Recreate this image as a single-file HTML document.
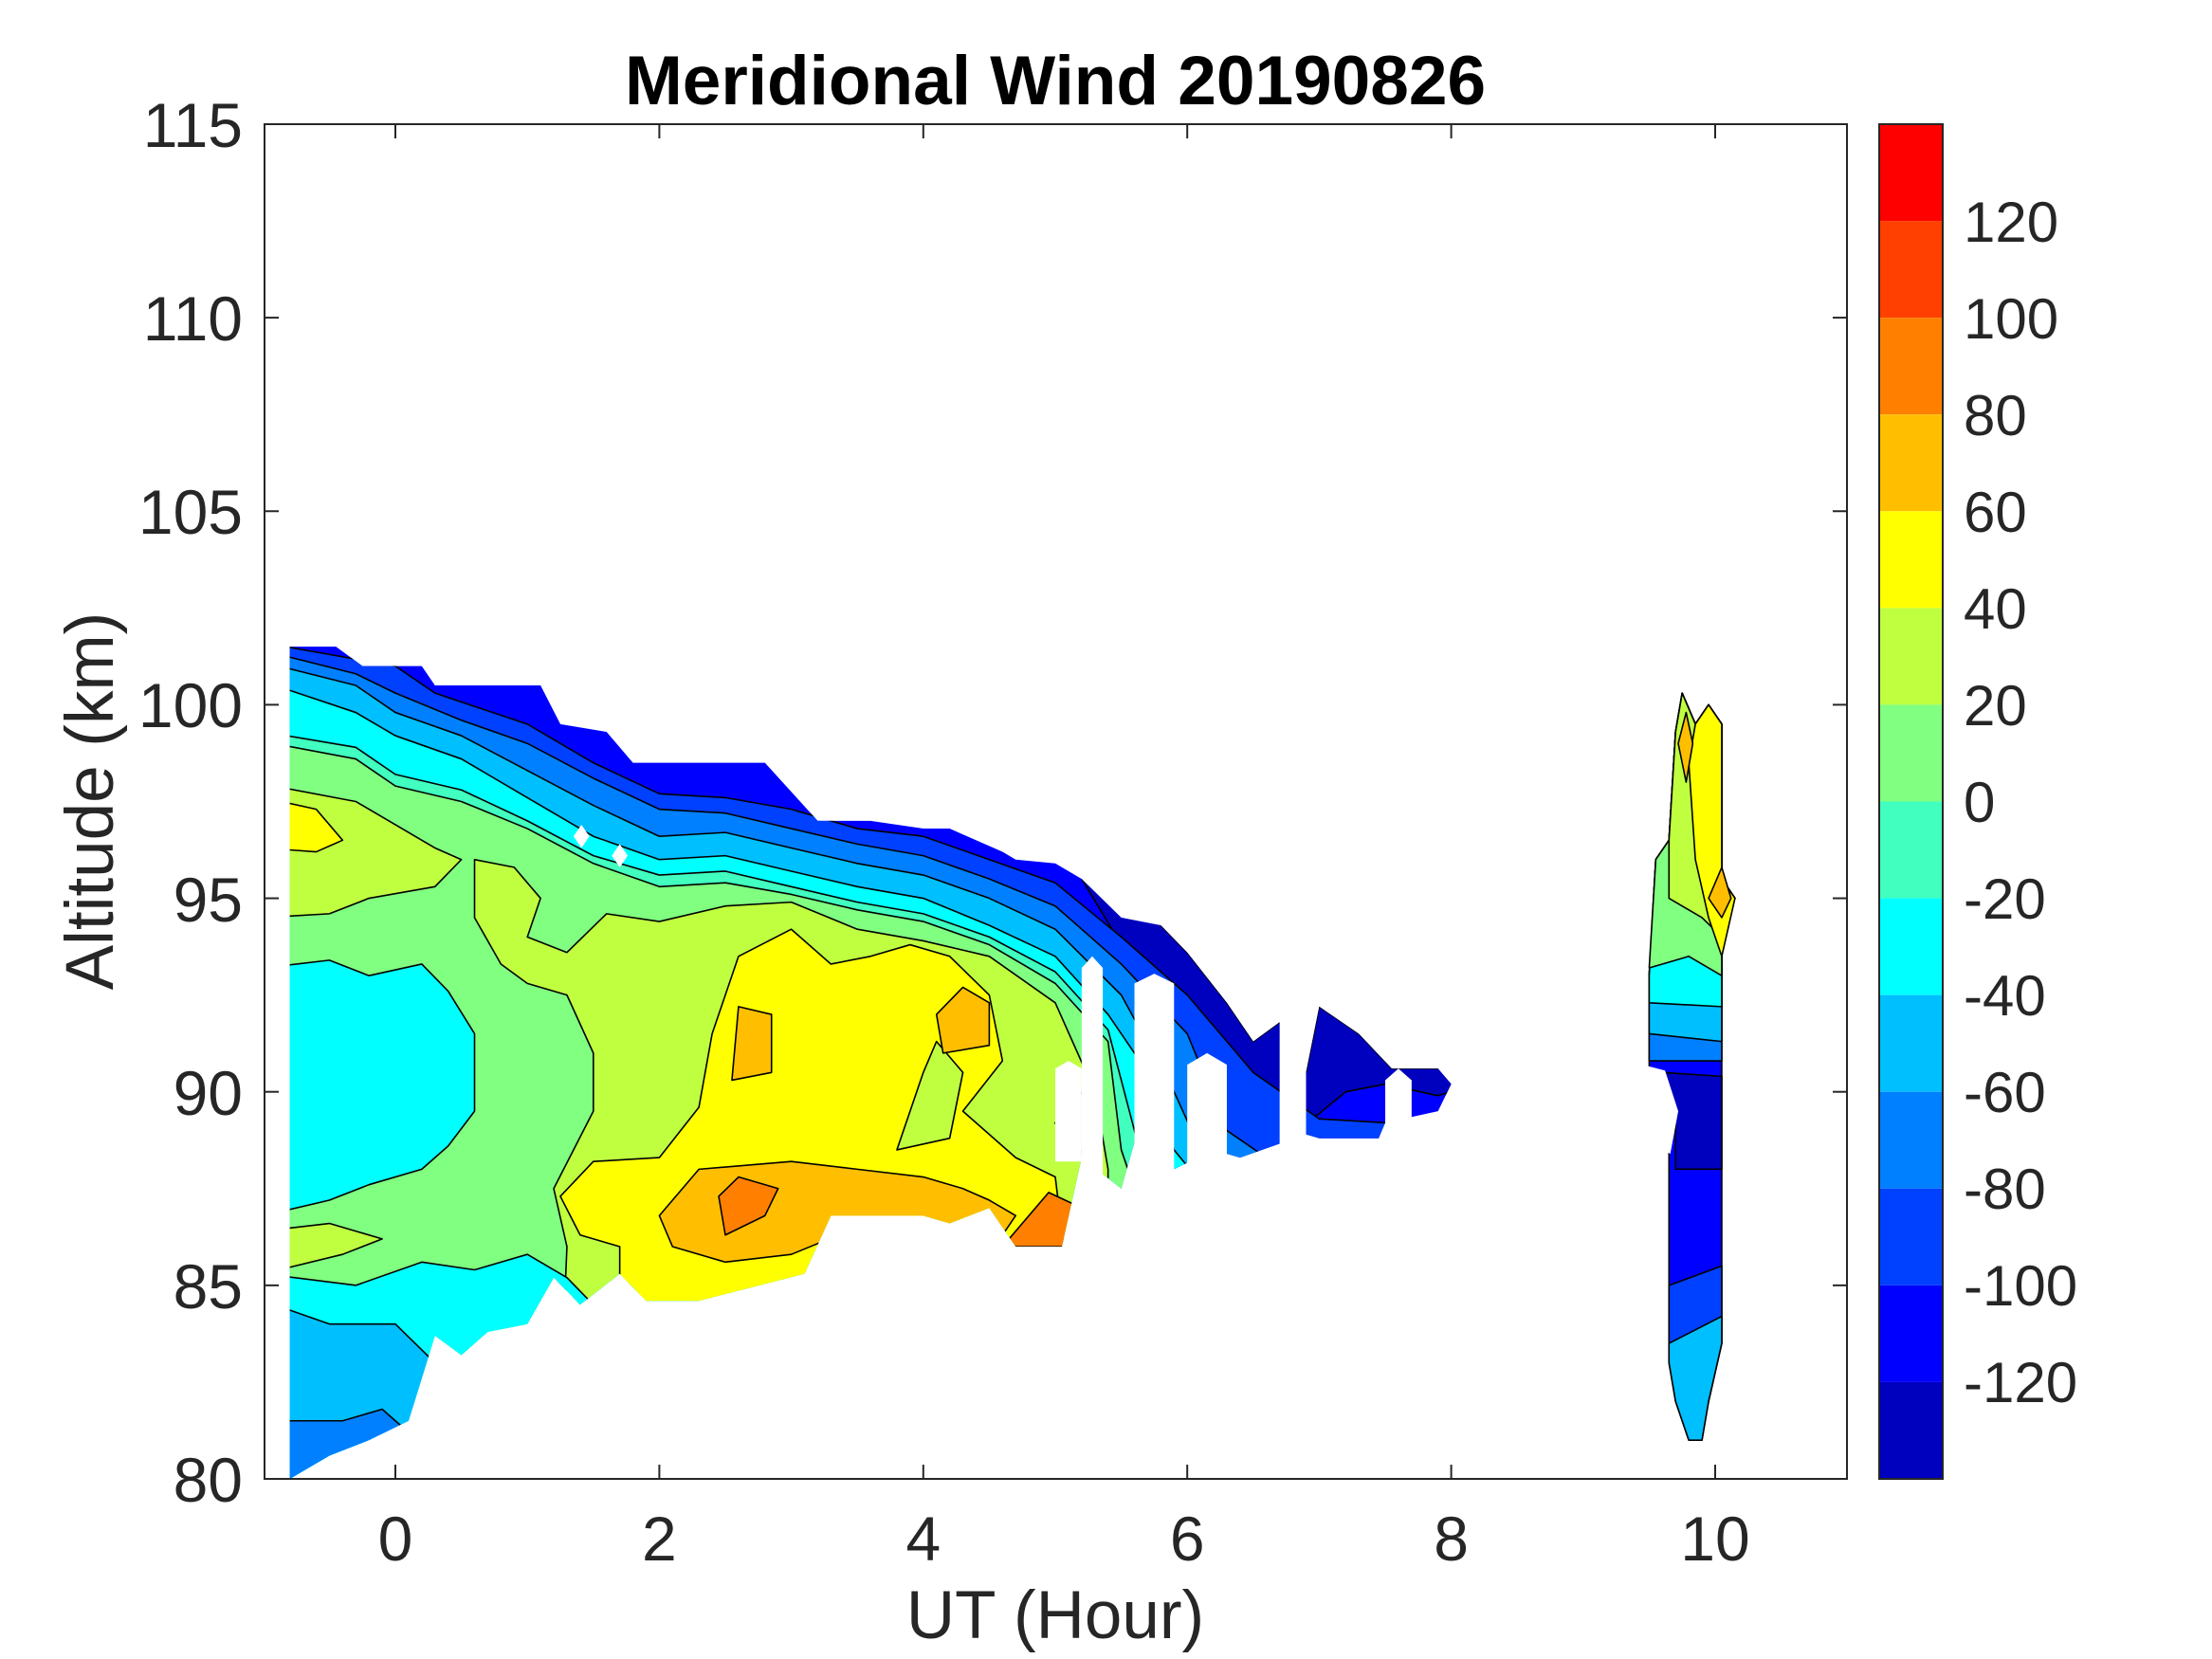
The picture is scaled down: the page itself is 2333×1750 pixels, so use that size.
<!DOCTYPE html>
<html><head><meta charset="utf-8"><style>
html,body{margin:0;padding:0;background:#fff;}
svg{display:block;}
text{font-family:"Liberation Sans",Arial,sans-serif;fill:#262626;}
</style></head><body>
<svg width="2333" height="1750" viewBox="0 0 2333 1750" xmlns="http://www.w3.org/2000/svg">
<defs>
<clipPath id="ax"><rect x="279" y="131" width="1669" height="1429"/></clipPath>
<clipPath id="main"><polygon points="-0.8,101.5 -0.45,101.5 -0.25,101 0.2,101 0.3,100.5 1.1,100.5 1.25,99.5 1.6,99.3 1.8,98.5 2.8,98.5 3.2,97 3.6,97 4,96.8 4.2,96.8 4.6,96.2 4.7,96 5.0,95.9 5.2,95.5 5.5,94.5 5.8,94.3 6.0,93.6 6.3,92.3 6.5,91.3 6.7,91.8 6.9,90.5 7.0,92.2 7.3,91.5 7.55,90.6 7.9,90.6 8.0,90.2 7.9,89.5 7.5,89.2 7.45,88.8 7.0,88.8 6.9,88.9 6.4,88.3 6.2,88.5 5.9,88 5.6,88.7 5.5,87.5 5.2,88.3 5.05,86 4.7,86 4.5,87 4.2,86.6 4.0,86.8 3.3,86.8 3.1,85.3 2.3,84.6 1.9,84.6 1.7,85.3 1.4,84.5 1.2,85.2 1.0,84 0.7,83.8 0.5,83.2 0.3,83.7 0.2,82.6 0.1,81.5 -0.2,81.0 -0.5,80.6 -0.8,80"/></clipPath>
</defs>
<g clip-path="url(#ax)">
<g transform="matrix(139.2,0,0,-40.83,417,4826.4)" stroke="#000" stroke-width="1.6" stroke-linejoin="round">
<g clip-path="url(#main)">
<rect x="-1" y="78" width="10" height="25" fill="#0000ff" stroke="none"/>
<polygon vector-effect="non-scaling-stroke" fill="#0000bf" points="5.3,96 5.8,94.3 6.0,93.6 6.3,92.3 6.5,91.3 6.7,91.8 6.9,90.5 7.0,92.2 7.3,91.5 7.55,90.6 7.9,90.6 8.2,90.2 7.9,89.9 7.5,90.2 7.2,90 6.95,89.3 6.7,89.5 6.3,90 6.0,91 5.7,92.5 5.5,93.8 5.2,95.5"/>
<polygon vector-effect="non-scaling-stroke" fill="#0040ff" points="-1,101.6 0,101 0.3,100.3 1,99.5 1.5,98.5 2,97.7 2.5,97.6 3,97.3 3.5,96.8 4,96.6 4.5,96 5,95.4 5.5,94 6,92.5 6.5,90.5 7,89.3 8.5,89 8.5,78 -1,78"/>
<polygon vector-effect="non-scaling-stroke" fill="#0080ff" points="-1,101.4 -0.3,100.8 0,100.3 0.5,99.6 1,99 1.5,98.1 2,97.3 2.5,97.2 3,96.8 3.5,96.4 4,96.1 4.5,95.5 5,94.8 5.5,93.3 6,91.5 6.3,89 6.6,88.3 8.5,87.5 8.5,78 -1,78"/>
<polygon vector-effect="non-scaling-stroke" fill="#00bfff" points="-1,101.1 -0.3,100.5 0,99.8 0.5,99.2 1,98.3 1.5,97.4 2,96.6 2.5,96.7 3,96.3 3.5,95.9 4,95.6 4.5,95 5,94.2 5.5,92.5 5.9,90 6.1,88.5 6.5,87 7.2,86 8.5,85 8.5,78 -1,78"/>
<polygon vector-effect="non-scaling-stroke" fill="#00ffff" points="-1,100.6 -0.3,99.8 0,99.2 0.5,98.6 1,97.6 1.5,96.6 2,96.0 2.5,96.1 3,95.7 3.5,95.3 4,95.0 4.5,94.3 5,93.5 5.4,92 5.7,90.5 5.9,88.5 6.5,86 6.5,78 -1,78"/>
<polygon vector-effect="non-scaling-stroke" fill="#40ffbf" points="-1,99.3 -0.3,98.9 0,98.2 0.5,97.8 1,97.0 1.5,96.1 2,95.6 2.5,95.7 3,95.3 3.5,94.9 4,94.6 4.5,94.0 5,93.1 5.4,91.6 5.6,89 5.7,87.5 5.7,78 -1,78"/>
<polygon vector-effect="non-scaling-stroke" fill="#80ff80" points="-1,99.05 -0.3,98.6 0,97.9 0.5,97.5 1,96.8 1.5,95.9 2,95.3 2.5,95.4 3,95.1 3.5,94.7 4,94.4 4.5,93.8 5,92.8 5.4,91.3 5.5,88.5 5.6,87.5 5.6,78 -1,78"/>
<polygon vector-effect="non-scaling-stroke" fill="#bfff40" points="-1,97.95 -0.3,97.5 0,96.9 0.3,96.3 0.5,96 0.3,95.3 -0.2,95 -0.5,94.6 -1,94.5"/>
<polygon vector-effect="non-scaling-stroke" fill="#bfff40" points="0.6,96.0 0.9,95.8 1.1,95 1.0,94 1.3,93.6 1.6,94.6 2,94.4 2.5,94.8 3,94.9 3.5,94.2 4,93.9 4.5,93.5 5,92.3 5.3,90 5.4,88 5.4,78 1.2,78 1.3,86 1.2,87.5 1.5,89.5 1.5,91 1.3,92.5 1.0,92.8 0.8,93.3 0.6,94.5"/>
<polygon vector-effect="non-scaling-stroke" fill="#80ff80" points="5.0,89.2 5.2,90 5.3,88.6 5.1,88.3"/>
<polygon vector-effect="non-scaling-stroke" fill="#00ffff" points="-1,93.2 -0.5,93.4 -0.2,93.0 0.2,93.3 0.4,92.6 0.6,91.5 0.6,89.5 0.4,88.6 0.2,88.0 -0.2,87.6 -0.5,87.2 -1,86.8"/>
<polygon vector-effect="non-scaling-stroke" fill="#bfff40" points="-1,85.3 -0.4,85.8 -0.1,86.2 -0.5,86.6 -1,86.4"/>
<polygon vector-effect="non-scaling-stroke" fill="#00ffff" points="-1,85.3 -0.3,85.0 0.2,85.6 0.6,85.4 1.0,85.8 1.3,85.2 1.5,84.5 1.5,78 -1,78"/>
<polygon vector-effect="non-scaling-stroke" fill="#00bfff" points="-1,84.6 -0.5,84.0 0,84.0 0.3,83.0 0.5,78 -1,78"/>
<polygon vector-effect="non-scaling-stroke" fill="#0080ff" points="-1,81.5 -0.4,81.5 -0.1,81.8 0.1,81.2 0.2,78 -1,78"/>
<polygon vector-effect="non-scaling-stroke" fill="#ffff00" points="1.25,87.3 1.5,88.2 2.0,88.3 2.3,89.6 2.4,91.5 2.6,93.5 3.0,94.2 3.3,93.3 3.6,93.5 3.9,93.8 4.2,93.5 4.5,92.5 4.6,90.8 4.3,89.5 4.7,88.3 5.0,87.8 5.1,85 4.0,85 3.0,84.5 2.5,84 1.7,84 1.7,86 1.4,86.3"/>
<polygon vector-effect="non-scaling-stroke" fill="#bfff40" points="3.8,88.5 4.0,90.5 4.1,91.3 4.3,90.5 4.2,88.8"/>
<polygon vector-effect="non-scaling-stroke" fill="#ffff00" points="-1,97.6 -0.6,97.3 -0.4,96.5 -0.6,96.2 -1,96.3"/>
<polygon vector-effect="non-scaling-stroke" fill="#ffbf00" points="2.0,86.8 2.3,88.0 3.0,88.2 3.5,88.0 4.0,87.8 4.3,87.5 4.5,87.2 4.7,86.8 4.6,86.3 4.0,86.3 3.5,86.5 3.0,85.8 2.5,85.6 2.1,86.0"/>
<polygon vector-effect="non-scaling-stroke" fill="#ffbf00" points="2.55,90.3 2.85,90.5 2.85,92.0 2.6,92.2"/>
<polygon vector-effect="non-scaling-stroke" fill="#ffbf00" points="4.15,91.0 4.5,91.2 4.5,92.3 4.3,92.7 4.1,92.0"/>
<polygon vector-effect="non-scaling-stroke" fill="#ff8000" points="2.5,86.3 2.8,86.8 2.9,87.5 2.6,87.8 2.45,87.3"/>
<polygon vector-effect="non-scaling-stroke" fill="#ff8000" points="4.6,86.0 5.2,86.0 5.2,87.0 4.95,87.4"/>
</g>
<!-- right block -->
<g>
<polygon vector-effect="non-scaling-stroke" fill="#0000ff" points="9.55,96 9.65,96.5 9.7,99.3 9.75,100.3 9.85,99.5 9.95,100 10.05,99.5 10.05,95.5 10.15,95 10.05,94.5 10.05,83.5 9.95,82 9.9,81 9.8,81 9.7,82 9.65,83 9.65,88.5 9.5,88.8 9.5,93"/>
<polygon vector-effect="non-scaling-stroke" fill="#0000bf" points="9.7,88 10.05,88 10.05,90.4 9.6,90.5 9.7,89.5"/>
<polygon vector-effect="non-scaling-stroke" fill="#0040ff" points="9.65,85 10.05,85.5 10.05,83.5 9.95,82 9.65,83"/>
<polygon vector-effect="non-scaling-stroke" fill="#00bfff" points="9.65,83.5 10.05,84.2 10.05,83.5 9.95,82 9.9,81 9.8,81 9.7,82 9.65,83"/>
<polygon vector-effect="non-scaling-stroke" fill="#0080ff" points="9.5,93 9.55,96 9.65,96.5 9.7,99.3 9.75,100.3 9.85,99.5 9.95,100 10.05,99.5 10.05,95.5 10.15,95 10.05,94.5 10.05,90.8 9.5,90.8"/>
<polygon vector-effect="non-scaling-stroke" fill="#00bfff" points="9.5,93 9.55,96 9.65,96.5 9.7,99.3 9.75,100.3 9.85,99.5 9.95,100 10.05,99.5 10.05,95.5 10.15,95 10.05,94.5 10.05,91.3 9.5,91.5"/>
<polygon vector-effect="non-scaling-stroke" fill="#00ffff" points="9.5,93 9.55,96 9.65,96.5 9.7,99.3 9.75,100.3 9.85,99.5 9.95,100 10.05,99.5 10.05,95.5 10.15,95 10.05,94.5 10.05,92.2 9.5,92.3"/>
<polygon vector-effect="non-scaling-stroke" fill="#80ff80" points="9.5,93.2 9.55,96 9.65,96.5 9.7,99.3 9.75,100.3 9.85,99.5 9.95,100 10.05,99.5 10.05,95.5 10.15,95 10.05,94.5 10.05,93 9.8,93.5"/>
<polygon vector-effect="non-scaling-stroke" fill="#bfff40" points="9.65,95 9.65,96.5 9.7,99.3 9.75,100.3 9.85,99.5 9.95,100 10.05,99.5 10.05,95.5 10.15,95 10.05,94 9.9,94.5"/>
<polygon vector-effect="non-scaling-stroke" fill="#ffff00" points="9.85,96 9.8,98.5 9.85,99.5 9.95,100 10.05,99.5 10.05,95.5 10.15,95 10.05,93.5 9.95,94.5"/>
<polygon vector-effect="non-scaling-stroke" fill="#ffbf00" points="9.95,95 10.05,95.8 10.12,95 10.05,94.5"/>
<polygon vector-effect="non-scaling-stroke" fill="#ffbf00" points="9.72,99 9.78,99.8 9.83,99 9.78,98"/>
</g>
<!-- white gaps -->
<g fill="#fff" stroke="none">
<polygon points="5.2,78 5.2,93.2 5.28,93.5 5.36,93.2 5.36,78"/>
<polygon points="5.6,78 5.6,92.8 5.75,93.05 5.9,92.8 5.9,78"/>
<polygon points="6.0,78 6.0,90.7 6.15,91.0 6.3,90.7 6.3,78"/>
<rect x="6.7" y="78" width="0.2" height="16"/>
<polygon points="7.5,78 7.5,90.3 7.6,90.6 7.7,90.3 7.7,78"/>
<polygon points="5.0,88.2 5.2,88.2 5.2,90.6 5.1,90.8 5.0,90.6"/>
<polygon points="1.35,96.6 1.41,96.9 1.47,96.6 1.41,96.3"/>
<polygon points="1.64,96.1 1.7,96.4 1.76,96.1 1.7,95.8"/>
<polygon points="9.45,88.7 9.66,88.4 9.72,89.5 9.62,90.55 9.45,90.7"/>
</g>
</g>
</g>
<!-- axes -->
<rect x="279" y="131" width="1669" height="1429" fill="none" stroke="#262626" stroke-width="2"/>
<g stroke="#262626" stroke-width="2">
<line x1="417" y1="1560" x2="417" y2="1545"/><line x1="417" y1="131" x2="417" y2="146"/>
<line x1="695.4" y1="1560" x2="695.4" y2="1545"/><line x1="695.4" y1="131" x2="695.4" y2="146"/>
<line x1="973.8" y1="1560" x2="973.8" y2="1545"/><line x1="973.8" y1="131" x2="973.8" y2="146"/>
<line x1="1252.2" y1="1560" x2="1252.2" y2="1545"/><line x1="1252.2" y1="131" x2="1252.2" y2="146"/>
<line x1="1530.6" y1="1560" x2="1530.6" y2="1545"/><line x1="1530.6" y1="131" x2="1530.6" y2="146"/>
<line x1="1809" y1="1560" x2="1809" y2="1545"/><line x1="1809" y1="131" x2="1809" y2="146"/>
<line x1="279" y1="1355.85" x2="294" y2="1355.85"/><line x1="1948" y1="1355.85" x2="1933" y2="1355.85"/>
<line x1="279" y1="1151.7" x2="294" y2="1151.7"/><line x1="1948" y1="1151.7" x2="1933" y2="1151.7"/>
<line x1="279" y1="947.55" x2="294" y2="947.55"/><line x1="1948" y1="947.55" x2="1933" y2="947.55"/>
<line x1="279" y1="743.4" x2="294" y2="743.4"/><line x1="1948" y1="743.4" x2="1933" y2="743.4"/>
<line x1="279" y1="539.25" x2="294" y2="539.25"/><line x1="1948" y1="539.25" x2="1933" y2="539.25"/>
<line x1="279" y1="335.1" x2="294" y2="335.1"/><line x1="1948" y1="335.1" x2="1933" y2="335.1"/>
</g>
<g font-size="66" text-anchor="end">
<text x="256" y="1584">80</text><text x="256" y="1380">85</text><text x="256" y="1176">90</text>
<text x="256" y="972">95</text><text x="256" y="767">100</text><text x="256" y="563">105</text>
<text x="256" y="359">110</text><text x="256" y="155">115</text>
</g>
<g font-size="66" text-anchor="middle">
<text x="417" y="1646">0</text><text x="695.4" y="1646">2</text><text x="973.8" y="1646">4</text>
<text x="1252.2" y="1646">6</text><text x="1530.6" y="1646">8</text><text x="1809" y="1646">10</text>
</g>
<text x="1113" y="1728" font-size="71" text-anchor="middle">UT (Hour)</text>
<text transform="translate(119,845) rotate(-90)" font-size="71" text-anchor="middle">Altitude (km)</text>
<text x="1113" y="110" font-size="73" font-weight="bold" text-anchor="middle" style="fill:#000">Meridional Wind 20190826</text>
<!-- colorbar -->
<g>
<rect x="1982" y="131" width="67" height="102.07" fill="#ff0000"/>
<rect x="1982" y="233.07" width="67" height="102.07" fill="#ff4000"/>
<rect x="1982" y="335.14" width="67" height="102.07" fill="#ff8000"/>
<rect x="1982" y="437.21" width="67" height="102.07" fill="#ffbf00"/>
<rect x="1982" y="539.28" width="67" height="102.07" fill="#ffff00"/>
<rect x="1982" y="641.35" width="67" height="102.07" fill="#bfff40"/>
<rect x="1982" y="743.42" width="67" height="102.07" fill="#80ff80"/>
<rect x="1982" y="845.49" width="67" height="102.07" fill="#40ffbf"/>
<rect x="1982" y="947.56" width="67" height="102.07" fill="#00ffff"/>
<rect x="1982" y="1049.63" width="67" height="102.07" fill="#00bfff"/>
<rect x="1982" y="1151.7" width="67" height="102.07" fill="#0080ff"/>
<rect x="1982" y="1253.77" width="67" height="102.07" fill="#0040ff"/>
<rect x="1982" y="1355.84" width="67" height="102.07" fill="#0000ff"/>
<rect x="1982" y="1457.91" width="67" height="102.09" fill="#0000bf"/>
<rect x="1982" y="131" width="67" height="1429" fill="none" stroke="#262626" stroke-width="2"/>
</g>
<g font-size="60">
<text x="2071" y="255">120</text><text x="2071" y="357">100</text><text x="2071" y="459">80</text>
<text x="2071" y="561">60</text><text x="2071" y="663">40</text><text x="2071" y="765">20</text>
<text x="2071" y="867">0</text><text x="2071" y="969">-20</text><text x="2071" y="1071">-40</text>
<text x="2071" y="1173">-60</text><text x="2071" y="1275">-80</text><text x="2071" y="1377">-100</text>
<text x="2071" y="1479">-120</text>
</g>
</svg>
</body></html>
